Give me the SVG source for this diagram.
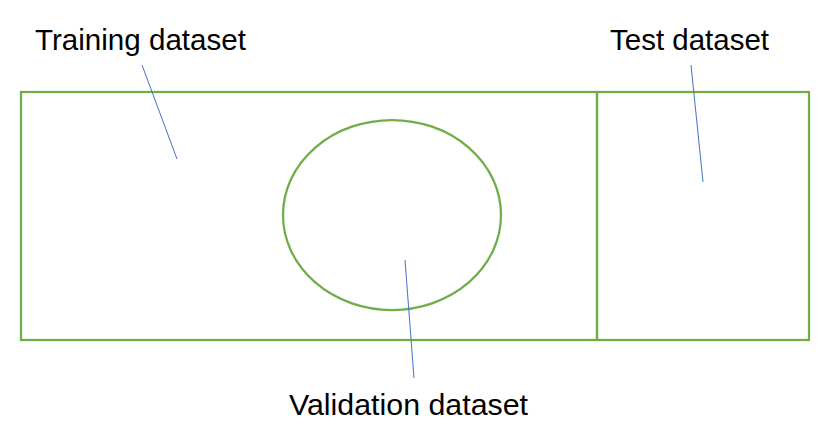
<svg xmlns="http://www.w3.org/2000/svg" width="836" height="448" viewBox="0 0 836 448">
<style>
.shape{fill:none;stroke:#70AD47;stroke-width:2.25}
.conn{stroke:#4472C4;stroke-width:1;fill:none}
.lbl{font-family:"Liberation Sans",Arial,sans-serif;font-size:29px;fill:#000}
</style>
<rect width="836" height="448" fill="#fff"/>
<g id="training">
<rect class="shape" x="21" y="92" width="576" height="248"/>
<text class="lbl" x="35" y="50" textLength="211" lengthAdjust="spacingAndGlyphs">Training dataset</text>
</g>
<g id="test">
<rect class="shape" x="597" y="92" width="212" height="248"/>
<text class="lbl" x="610" y="50" textLength="159" lengthAdjust="spacingAndGlyphs">Test dataset</text>
</g>
<g id="validation">
<ellipse class="shape" cx="392" cy="215" rx="109" ry="95"/>
<text class="lbl" x="289" y="415" textLength="239" lengthAdjust="spacingAndGlyphs">Validation dataset</text>
</g>
<g id="connectors">
<line class="conn" x1="142" y1="65" x2="177" y2="159"/>
<line class="conn" x1="691" y1="65" x2="703" y2="182"/>
<line class="conn" x1="405" y1="260" x2="414" y2="378"/>
</g>
</svg>
